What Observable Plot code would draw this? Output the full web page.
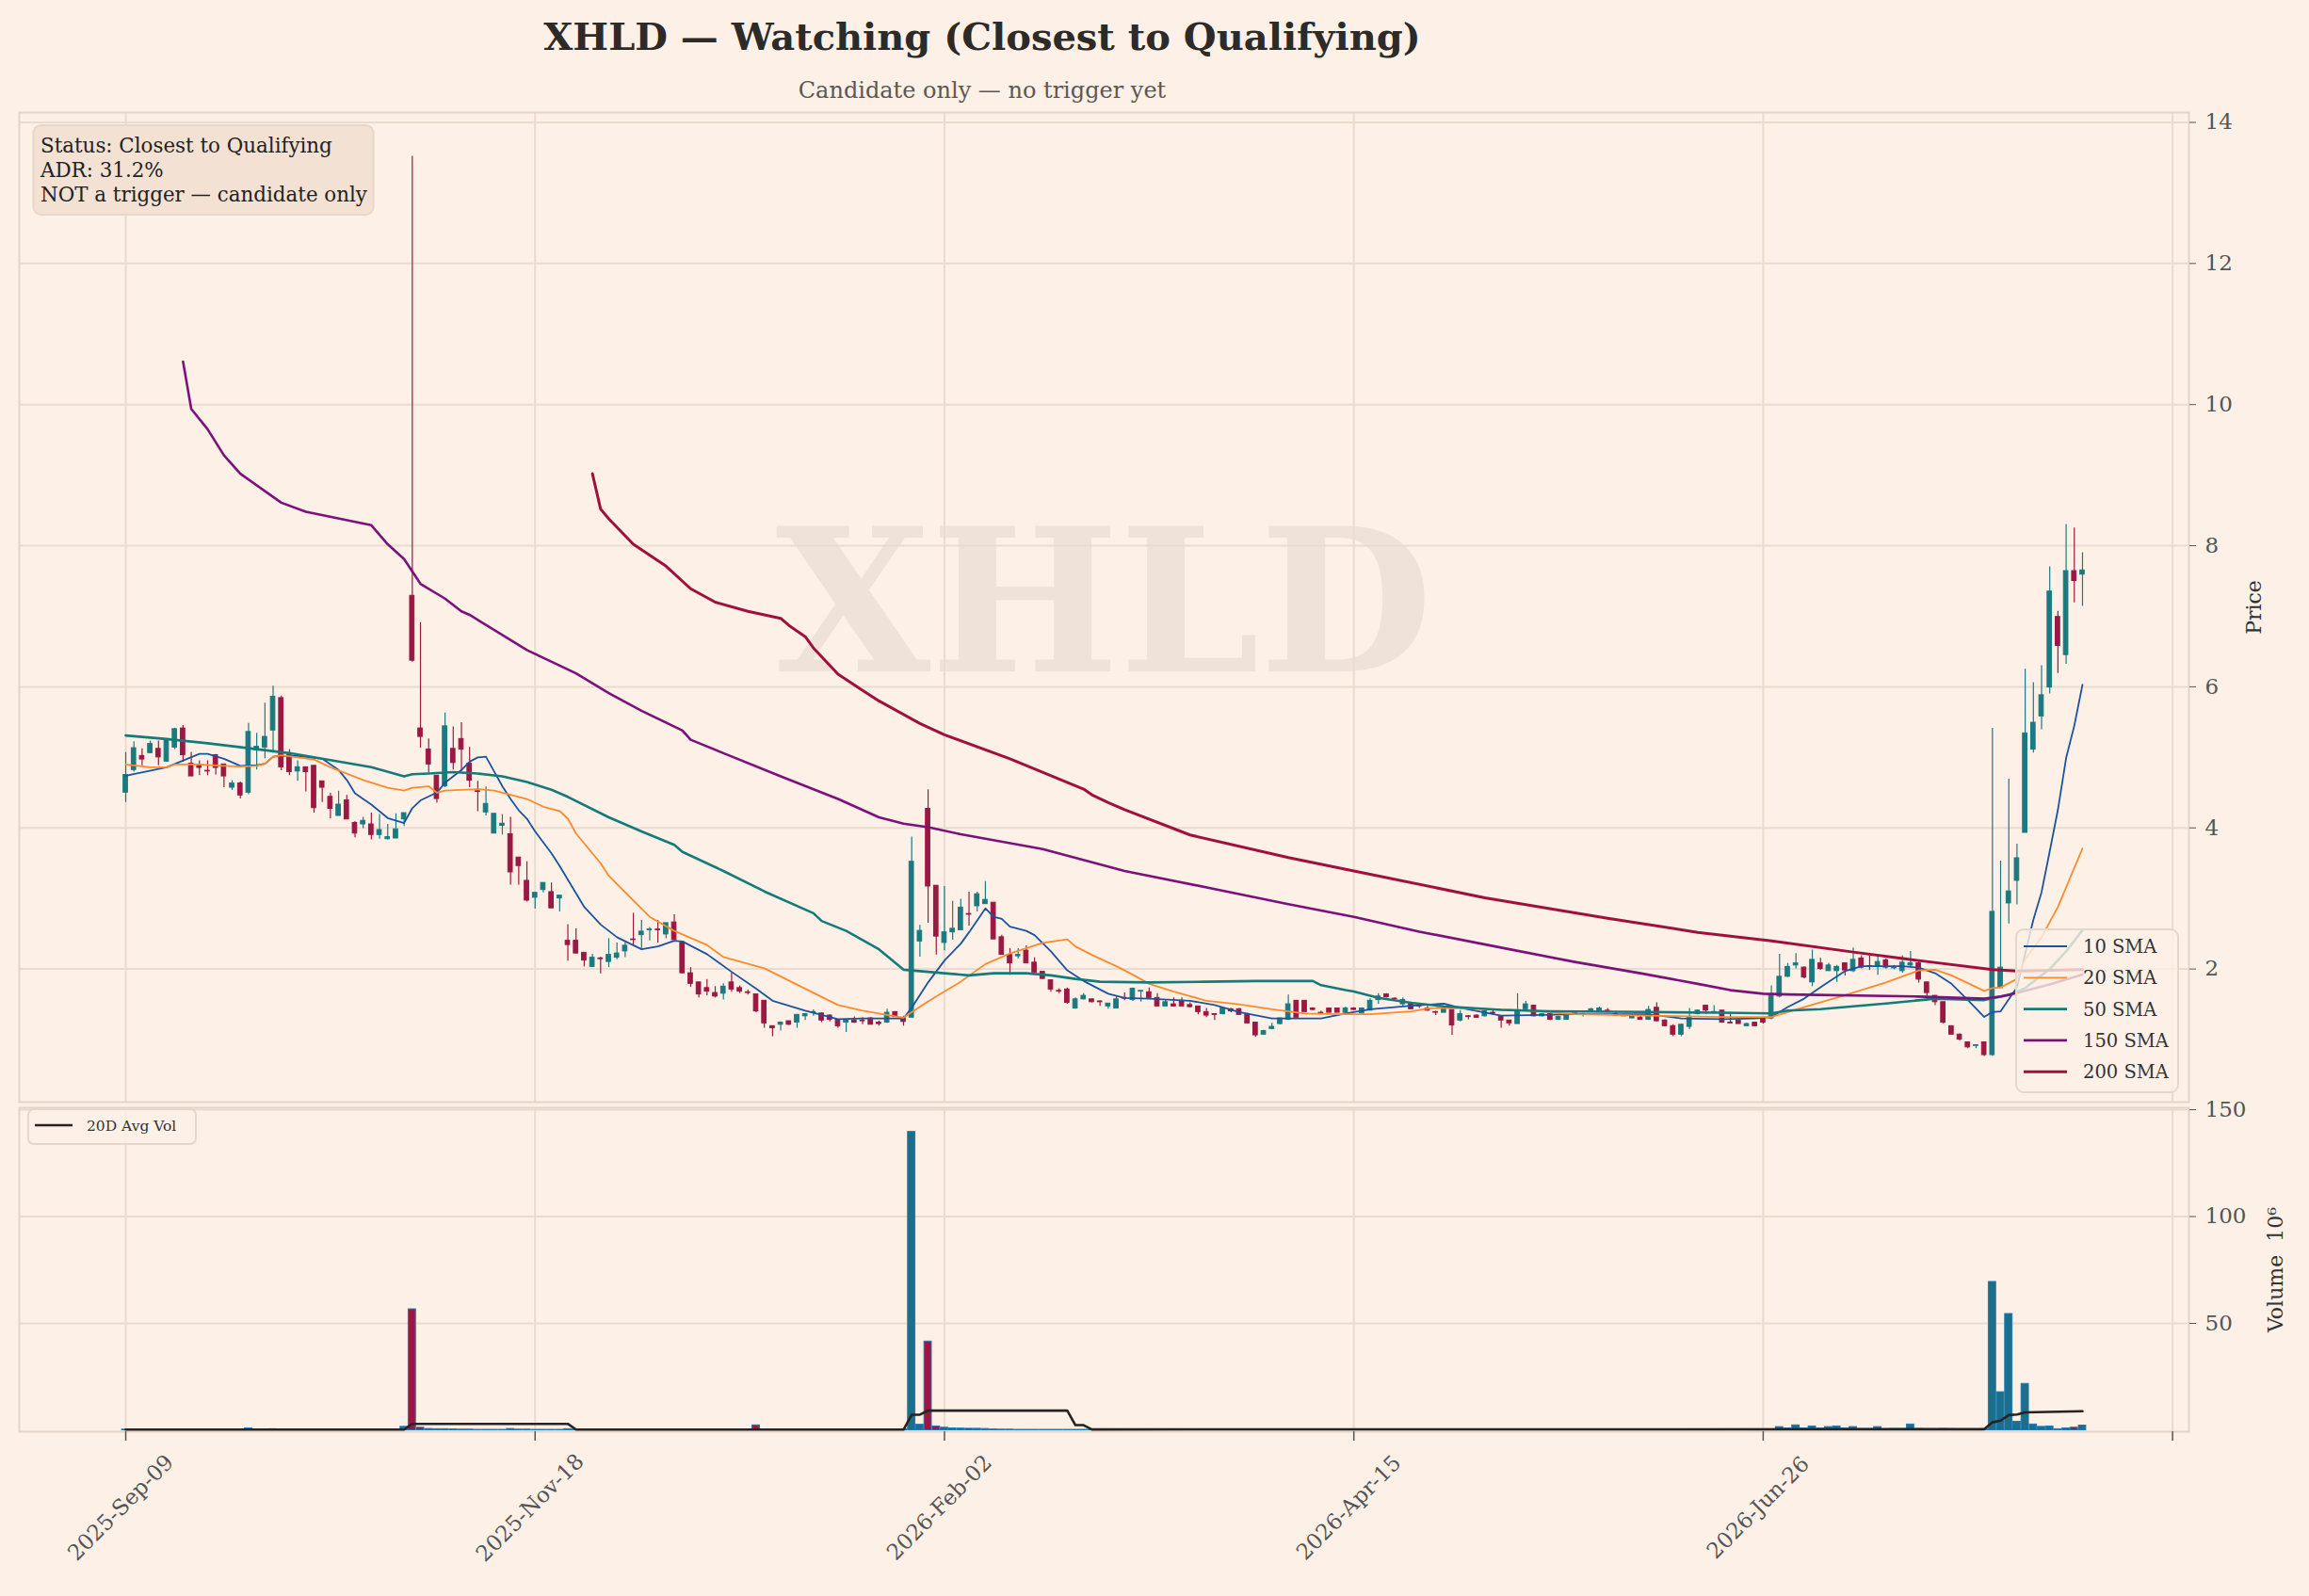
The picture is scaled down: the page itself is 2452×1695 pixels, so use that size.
<!DOCTYPE html>
<html><head><meta charset="utf-8">
<script src="https://cdn.jsdelivr.net/npm/d3@7"></script>
<script src="https://cdn.jsdelivr.net/npm/@observablehq/plot@0.6"></script>
<style>
html,body{margin:0;padding:0;background:#fdf1e7;}
#wrap{position:relative;width:2452px;height:1695px;overflow:hidden;background:#fdf1e7;font-family:"DejaVu Serif",serif;}
.abs{position:absolute;left:0;}
#price{top:0;}
#vol{top:1150px;}
#overlay{top:0;left:0;pointer-events:none;}
svg{overflow:visible;}
</style>
</head><body>
<div id="wrap">
  <div id="price" class="abs"></div>
  <div id="vol" class="abs"></div>
  <svg id="overlay" class="abs" width="2452" height="1695" xmlns="http://www.w3.org/2000/svg" font-family="DejaVu Serif">
    <text x="1043" y="53" text-anchor="middle" font-size="40" font-weight="bold" fill="#2e2a28">XHLD — Watching (Closest to Qualifying)</text>
    <text x="1043" y="104" text-anchor="middle" font-size="24" fill="#5c5753">Candidate only — no trigger yet</text>
    <rect x="35.5" y="133" width="361" height="95" rx="8" fill="#f3e1d3" stroke="#e8d6c8" stroke-width="2"/>
    <text x="43" font-size="21.4" fill="#222">
      <tspan x="43" y="162">Status: Closest to Qualifying</tspan>
      <tspan x="43" y="188">ADR: 31.2%</tspan>
      <tspan x="43" y="214">NOT a trigger — candidate only</tspan>
    </text>
    <g id="smaLegend"></g>
    <g id="volLegend"></g>
  </svg>
</div>
<script>
// ---------------- data ----------------
const opens = [4.50,4.82,5.02,5.06,5.12,4.94,5.14,5.41,4.91,4.88,4.81,5.03,4.90,4.57,4.63,4.50,5.10,5.14,5.38,5.84,
5.03,4.80,4.86,4.88,4.66,4.44,4.17,4.39,4.07,4.05,4.05,3.90,3.84,3.85,4.12,7.29,5.41,5.11,4.74,4.59,
5.12,5.26,4.91,4.52,4.22,3.92,4.03,3.91,3.58,3.25,3.01,3.12,3.09,3.00,2.40,2.40,2.23,2.03,2.15,2.10,
2.16,2.25,2.42,2.48,2.55,2.56,2.49,2.66,2.38,1.94,1.81,1.73,1.66,1.65,1.81,1.73,1.67,1.64,1.55,1.19,
1.21,1.26,1.24,1.33,1.38,1.37,1.34,1.28,1.24,1.27,1.27,1.30,1.24,1.24,1.39,1.30,1.31,2.39,4.27,3.18,
2.37,2.52,2.55,2.78,2.89,2.92,2.94,2.45,2.20,2.18,2.26,2.09,1.96,1.84,1.69,1.71,1.44,1.57,1.57,1.54,
1.47,1.44,1.59,1.56,1.68,1.67,1.59,1.47,1.50,1.55,1.49,1.47,1.39,1.36,1.36,1.43,1.43,1.35,1.24,1.07,
1.15,1.22,1.28,1.55,1.55,1.44,1.38,1.44,1.44,1.38,1.44,1.37,1.41,1.56,1.64,1.58,1.50,1.52,1.48,1.44,
1.39,1.38,1.42,1.27,1.33,1.34,1.33,1.38,1.32,1.27,1.22,1.43,1.48,1.33,1.36,1.28,1.28,1.36,1.35,1.39,
1.39,1.41,1.36,1.34,1.30,1.31,1.28,1.45,1.27,1.19,1.07,1.18,1.36,1.48,1.38,1.41,1.24,1.27,1.19,1.24,
1.30,1.30,1.61,1.89,2.05,2.02,1.81,2.08,1.97,1.97,2.08,1.97,2.15,2.04,2.03,2.12,2.01,1.97,2.05,2.08,
1.81,1.62,1.53,1.19,1.07,0.96,0.91,0.96,0.78,1.73,2.93,3.25,3.93,5.11,5.58,5.99,6.99,6.45,7.64,7.59];
const highs = [5.07,5.22,5.12,5.23,5.23,5.26,5.41,5.45,5.07,4.95,4.95,5.04,4.90,4.67,4.65,5.48,5.34,5.77,6.01,5.87,
5.11,4.95,4.86,4.88,4.66,4.49,4.52,4.46,4.09,4.15,4.21,4.19,4.05,4.20,4.21,13.52,6.91,5.26,4.74,5.63,
5.43,5.49,5.14,4.66,4.58,4.20,4.19,4.15,3.58,3.52,3.08,3.22,3.22,3.04,2.63,2.57,2.23,2.21,2.17,2.43,
2.37,2.38,2.79,2.69,2.59,2.69,2.65,2.77,2.38,2.02,1.81,1.85,1.75,1.79,1.94,1.76,1.70,1.64,1.55,1.19,
1.25,1.26,1.35,1.37,1.42,1.38,1.35,1.28,1.27,1.32,1.31,1.31,1.26,1.43,1.39,1.33,3.87,2.62,4.54,3.18,
3.17,2.96,2.99,3.09,3.09,3.24,2.94,2.48,2.29,2.29,2.33,2.16,1.96,1.84,1.72,1.73,1.59,1.65,1.57,1.55,
1.51,1.62,1.66,1.73,1.69,1.73,1.65,1.56,1.59,1.59,1.52,1.47,1.44,1.36,1.44,1.44,1.44,1.37,1.24,1.13,
1.23,1.30,1.63,1.55,1.55,1.45,1.40,1.44,1.44,1.46,1.45,1.45,1.58,1.65,1.65,1.59,1.59,1.53,1.51,1.47,
1.40,1.43,1.42,1.41,1.34,1.35,1.41,1.41,1.33,1.27,1.65,1.54,1.48,1.37,1.37,1.33,1.36,1.37,1.37,1.44,
1.46,1.44,1.40,1.36,1.35,1.34,1.47,1.52,1.28,1.21,1.22,1.44,1.42,1.48,1.48,1.41,1.36,1.27,1.23,1.24,
1.30,1.76,2.21,2.08,2.22,2.03,2.27,2.15,2.08,2.05,2.08,2.30,2.19,2.19,2.17,2.14,2.05,2.19,2.25,2.12,
1.81,1.62,1.53,1.19,1.08,0.96,0.92,0.96,5.41,3.53,4.69,3.77,6.25,6.06,6.30,7.70,7.07,8.30,8.25,7.90];
const lows = [4.36,4.79,4.88,5.05,4.88,4.93,5.11,4.93,4.73,4.74,4.74,4.75,4.57,4.53,4.41,4.47,4.82,4.98,5.06,4.81,
4.74,4.66,4.51,4.21,4.36,4.13,4.17,4.12,3.86,3.99,3.83,3.84,3.83,3.85,4.02,6.35,5.13,4.78,4.35,4.57,
4.82,4.80,4.57,4.23,4.17,3.92,3.90,3.19,3.19,2.95,2.85,3.08,2.86,2.81,2.11,2.22,2.03,2.03,1.93,2.02,
2.13,2.16,2.34,2.28,2.40,2.37,2.43,2.41,1.93,1.74,1.59,1.62,1.59,1.56,1.67,1.65,1.63,1.38,1.16,1.04,
1.12,1.20,1.16,1.27,1.33,1.24,1.25,1.16,1.10,1.23,1.21,1.21,1.19,1.23,1.32,1.19,1.31,2.17,2.65,2.20,
2.26,2.41,2.55,2.61,2.81,2.92,2.42,2.20,1.91,2.14,2.08,1.95,1.85,1.67,1.65,1.50,1.43,1.56,1.52,1.47,
1.43,1.44,1.55,1.54,1.53,1.59,1.47,1.47,1.46,1.47,1.45,1.35,1.31,1.27,1.35,1.38,1.34,1.22,1.03,1.07,
1.14,1.21,1.28,1.31,1.39,1.41,1.37,1.38,1.38,1.37,1.41,1.36,1.41,1.50,1.59,1.56,1.47,1.43,1.44,1.40,
1.34,1.38,1.06,1.25,1.28,1.30,1.32,1.34,1.16,1.19,1.22,1.41,1.32,1.32,1.27,1.27,1.28,1.35,1.32,1.38,
1.38,1.39,1.33,1.33,1.30,1.28,1.27,1.25,1.19,1.04,1.04,1.14,1.35,1.36,1.37,1.23,1.23,1.22,1.19,1.18,
1.22,1.28,1.59,1.88,2.00,1.86,1.75,1.98,1.97,1.81,1.90,1.95,2.00,1.98,1.91,2.00,1.99,1.94,2.02,1.80,
1.61,1.48,1.22,1.07,0.98,0.87,0.87,0.76,0.76,1.73,2.64,2.91,3.93,5.06,5.39,5.90,6.19,6.32,7.19,7.14];
const closes = [4.75,5.13,4.97,5.19,5.00,5.25,5.40,5.03,4.73,4.85,4.80,4.85,4.73,4.63,4.46,5.36,5.15,5.29,5.86,4.86,
4.79,4.86,4.79,4.28,4.57,4.27,4.33,4.12,3.92,4.10,3.90,3.97,3.87,3.98,4.21,6.37,5.29,4.90,4.41,5.44,
4.92,5.11,4.67,4.51,4.34,4.20,4.06,3.37,3.46,2.97,3.08,3.22,2.86,3.04,2.34,2.22,2.12,2.16,2.14,2.20,
2.22,2.33,2.41,2.53,2.56,2.55,2.65,2.41,1.94,1.79,1.64,1.68,1.61,1.75,1.71,1.68,1.66,1.40,1.23,1.16,
1.24,1.21,1.35,1.36,1.39,1.27,1.28,1.19,1.27,1.24,1.26,1.21,1.22,1.38,1.32,1.25,3.52,2.54,3.17,2.46,
2.52,2.57,2.87,2.77,3.06,2.98,2.42,2.20,2.08,2.20,2.08,1.95,1.86,1.71,1.68,1.52,1.57,1.62,1.53,1.53,
1.51,1.57,1.58,1.72,1.69,1.59,1.47,1.53,1.47,1.47,1.46,1.39,1.34,1.35,1.44,1.40,1.35,1.23,1.06,1.12,
1.18,1.30,1.50,1.31,1.39,1.42,1.37,1.38,1.38,1.44,1.42,1.44,1.55,1.61,1.60,1.57,1.56,1.43,1.47,1.41,
1.38,1.43,1.20,1.36,1.32,1.31,1.40,1.37,1.27,1.23,1.41,1.50,1.33,1.36,1.28,1.32,1.35,1.37,1.36,1.43,
1.44,1.40,1.34,1.33,1.34,1.28,1.42,1.26,1.19,1.07,1.21,1.32,1.41,1.41,1.39,1.24,1.23,1.22,1.22,1.19,
1.24,1.63,1.89,2.03,2.08,1.88,2.13,2.00,2.05,2.03,1.98,2.13,2.02,2.03,2.10,2.02,2.02,2.09,2.08,1.85,
1.66,1.53,1.24,1.07,1.00,0.89,0.92,0.78,2.81,2.02,3.10,3.57,5.34,5.49,5.88,7.35,6.58,7.64,7.50,7.65];
const volumes = [0.3,0.3,0.2,0.2,0.3,0.2,0.3,0.3,0.2,0.2,0.2,0.2,0.2,0.2,0.2,0.9,0.3,0.4,0.5,0.4,
0.3,0.2,0.2,0.3,0.2,0.2,0.2,0.2,0.2,0.2,0.2,0.2,0.2,0.2,1.6,56.6,1.2,0.6,0.5,0.5,
0.4,0.3,0.3,0.2,0.2,0.2,0.2,0.6,0.3,0.3,0.2,0.2,0.2,0.2,0.5,0.3,0.2,0.2,0.2,0.2,
0.2,0.2,0.2,0.2,0.2,0.2,0.2,0.2,0.2,0.2,0.2,0.2,0.2,0.2,0.2,0.2,0.2,2.3,0.3,0.2,
0.2,0.2,0.2,0.2,0.2,0.2,0.2,0.2,0.2,0.2,0.2,0.2,0.2,0.2,0.2,0.5,139.6,2.6,41.5,1.8,
1.2,0.9,0.8,0.7,0.7,0.6,0.4,0.3,0.3,0.2,0.2,0.2,0.2,0.2,0.2,0.2,0.2,0.2,0.2,0.2,
0.2,0.2,0.2,0.2,0.2,0.2,0.2,0.2,0.2,0.2,0.2,0.2,0.2,0.2,0.2,0.2,0.2,0.2,0.3,0.2,
0.2,0.2,0.3,0.2,0.2,0.2,0.2,0.2,0.2,0.2,0.2,0.2,0.3,0.2,0.2,0.2,0.2,0.2,0.2,0.2,
0.2,0.2,0.3,0.2,0.2,0.2,0.2,0.2,0.2,0.2,0.3,0.2,0.2,0.2,0.2,0.2,0.2,0.2,0.2,0.2,
0.2,0.2,0.2,0.2,0.2,0.2,0.3,0.2,0.2,0.3,0.2,0.2,0.2,0.2,0.2,0.2,0.2,0.2,0.2,0.2,
0.3,0.4,1.5,0.8,2.3,0.8,1.8,0.8,1.5,1.8,0.8,1.5,0.6,0.6,1.5,0.5,0.6,0.6,2.7,0.6,
0.5,0.5,0.6,0.5,0.4,0.4,0.3,0.5,69.4,17.8,54.4,4.0,21.7,2.7,1.6,1.8,0.5,0.9,1.2,2.2];
// moving averages: [bar, value]
const sma10 = [[0,4.74],[5,4.86],[9,5.05],[10,5.05],[12,4.98],[14,4.88],[16,4.89],[17,4.91],[18,5.01],[19,5.02],[21,5.02],[24,4.98],[26,4.82],[27,4.68],[28,4.49],[30,4.33],[32,4.14],[34,4.07],[35,4.28],[36,4.39],[38,4.50],[39,4.64],[41,4.82],[42,4.94],[43,5.00],[44,5.01],[45,4.80],[46,4.59],[47,4.41],[48,4.25],[49,4.13],[50,3.95],[52,3.64],[53,3.46],[56,2.88],[58,2.63],[60,2.45],[63,2.28],[65,2.32],[67,2.40],[68,2.39],[71,2.21],[74,1.96],[77,1.72],[79,1.55],[83,1.41],[87,1.29],[90,1.30],[95,1.30],[96,1.45],[98,1.81],[100,2.12],[102,2.36],[103,2.52],[105,2.86],[106,2.74],[107,2.71],[108,2.60],[110,2.54],[111,2.48],[113,2.25],[115,1.98],[117,1.83],[120,1.65],[122,1.59],[125,1.58],[130,1.55],[133,1.49],[136,1.39],[140,1.30],[146,1.30],[149,1.37],[152,1.43],[157,1.48],[161,1.51],[163,1.45],[168,1.34],[173,1.35],[177,1.36],[186,1.36],[190,1.30],[195,1.29],[199,1.30],[201,1.32],[203,1.46],[205,1.58],[207,1.74],[210,1.97],[212,2.04],[217,2.04],[219,2.02],[221,1.94],[223,1.79],[225,1.56],[227,1.32],[228,1.39],[229,1.40],[231,1.74],[232,2.22],[233,2.70],[234,3.09],[235,3.67],[236,4.26],[237,4.99],[238,5.45],[239,6.03]];
const sma20 = [[0,4.90],[3,4.86],[5,4.86],[6,4.90],[9,4.90],[12,4.88],[14,4.87],[16,4.88],[17,4.91],[18,5.01],[19,5.03],[21,5.00],[23,4.97],[25,4.86],[27,4.77],[29,4.68],[32,4.57],[34,4.53],[35,4.57],[37,4.59],[38,4.50],[39,4.53],[43,4.55],[45,4.53],[47,4.47],[49,4.41],[51,4.30],[53,4.24],[54,4.13],[55,3.92],[57,3.64],[58,3.50],[59,3.32],[62,2.97],[64,2.74],[67,2.54],[71,2.34],[73,2.17],[78,2.01],[83,1.72],[87,1.49],[90,1.41],[95,1.31],[98,1.54],[100,1.68],[102,1.82],[105,2.07],[108,2.22],[112,2.37],[115,2.42],[116,2.32],[118,2.20],[121,2.04],[123,1.92],[125,1.79],[128,1.68],[132,1.55],[136,1.50],[140,1.43],[144,1.37],[148,1.36],[152,1.36],[157,1.40],[159,1.44],[161,1.45],[170,1.42],[177,1.36],[186,1.34],[191,1.33],[195,1.32],[201,1.32],[203,1.39],[205,1.46],[210,1.63],[215,1.81],[219,1.98],[221,1.99],[223,1.91],[225,1.80],[227,1.69],[228,1.73],[229,1.74],[231,1.86],[232,2.14],[234,2.45],[236,2.88],[239,3.71]];
const sma50 = [[0,5.31],[5,5.26],[10,5.20],[15,5.13],[20,5.06],[25,4.96],[30,4.86],[34,4.73],[35,4.76],[37,4.77],[40,4.79],[43,4.77],[46,4.73],[49,4.65],[52,4.54],[54,4.44],[59,4.15],[63,3.95],[67,3.76],[68,3.66],[73,3.39],[78,3.10],[84,2.79],[85,2.68],[88,2.54],[92,2.28],[95,1.99],[96,1.98],[100,1.94],[103,1.91],[106,1.94],[110,1.94],[113,1.91],[116,1.86],[119,1.82],[125,1.81],[132,1.82],[138,1.83],[145,1.83],[146,1.77],[149,1.70],[150,1.68],[153,1.59],[157,1.52],[161,1.47],[168,1.42],[174,1.40],[186,1.39],[195,1.38],[201,1.37],[203,1.41],[207,1.43],[215,1.51],[221,1.58],[227,1.56],[230,1.63],[232,1.73],[235,2.00],[237,2.25],[239,2.55]];
const sma150 = [[7,10.61],[8,9.94],[10,9.65],[12,9.28],[14,9.02],[19,8.61],[22,8.48],[30,8.29],[32,8.02],[34,7.81],[36,7.46],[39,7.25],[41,7.07],[42,7.02],[49,6.52],[55,6.19],[59,5.91],[63,5.66],[68,5.38],[69,5.25],[73,5.06],[80,4.73],[87,4.41],[92,4.15],[95,4.06],[98,4.01],[102,3.91],[112,3.70],[122,3.39],[134,3.11],[142,2.92],[150,2.74],[158,2.53],[169,2.28],[177,2.10],[185,1.94],[192,1.79],[196,1.70],[200,1.65],[203,1.64],[219,1.61],[227,1.58],[229,1.61],[231,1.66],[235,1.78],[239,1.92]];
const sma200 = [[57,9.02],[58,8.52],[59,8.38],[62,8.02],[66,7.71],[69,7.39],[72,7.20],[76,7.07],[80,6.97],[81,6.87],[83,6.71],[84,6.55],[87,6.18],[90,5.95],[92,5.80],[97,5.48],[100,5.32],[108,4.98],[117,4.55],[118,4.47],[120,4.36],[122,4.26],[130,3.90],[142,3.58],[150,3.39],[166,3.01],[181,2.72],[192,2.52],[201,2.40],[211,2.24],[219,2.12],[228,1.99],[231,1.97],[239,1.99]];
const avgVol20 = [[0,0.3],[34,0.35],[35,3.0],[54,3.0],[55,0.35],[95,0.3],[96,7.3],[97,7.3],[98,9.2],[115,9.2],[116,2.4],[117,2.4],[118,0.4],[227,0.5],[228,3.7],[229,4.5],[230,7.1],[231,7.4],[232,8.4],[239,8.9]];
const priceTicks = [2,4,6,8,10,12,14];
const volTicks = [50,100,150];
const xTickPos = [0,50,100,150,200,250];
const xTickLabels = ["2025-Sep-09","2025-Nov-18","2026-Feb-02","2026-Apr-15","2026-Jun-26",""];
const smaNames = ["10 SMA","20 SMA","50 SMA","150 SMA","200 SMA"];
const smaColors = ["#1a53a0","#ff8a2b","#167a7a","#7b117a","#a0103d"];
const smaWidths = [1.8,1.8,2.6,2.6,3.0];
const ticker = "XHLD";

// ---------------- build ----------------
const UP = "#1a7a80", DOWN = "#9b1843";
const GRID = "#eadbcf", SPINE = "#e4d4c7", TXT = "#555";
const candles = opens.map((o, i) => ({i, open: o, high: highs[i], low: lows[i], close: closes[i], vol: volumes[i], up: closes[i] >= o}));
const xTicks = xTickPos.map((p, k) => ({pos: p, label: xTickLabels[k]}));
const xDomain = [-13.0, 252.0];
const font = "DejaVu Serif";
const smaSeries = [sma10, sma20, sma50, sma150, sma200];

const pricePlot = Plot.plot({
  width: 2452, height: 1180,
  marginTop: 119, marginBottom: 10, marginLeft: 20, marginRight: 128,
  x: {domain: xDomain, axis: null},
  y: {domain: [0.113, 14.14], axis: null},
  style: {background: "transparent", fontFamily: font, overflow: "visible"},
  marks: [
    Plot.text([ticker], {frameAnchor: "middle", text: d => d, fontSize: 212, fontWeight: "bold", fill: "#efe2d8"}),
    Plot.gridX(xTickPos, {stroke: GRID, strokeOpacity: 1, strokeWidth: 2}),
    Plot.gridY(priceTicks, {stroke: GRID, strokeOpacity: 1, strokeWidth: 2}),
    Plot.frame({stroke: SPINE, strokeWidth: 2}),
    Plot.axisY(priceTicks, {anchor: "right", tickSize: 7, tickPadding: 10, fontSize: 23, color: TXT, label: null, tickFormat: d => String(d)}),
    Plot.text(["Price"], {frameAnchor: "right", text: d => d, dx: 69, rotate: -90, textAnchor: "middle", fontSize: 22, fill: "#333"}),
    Plot.ruleX(candles, {x: "i", y1: "low", y2: "high", stroke: d => d.up ? UP : DOWN, strokeWidth: 1.2}),
    Plot.rect(candles, {x1: d => d.i - 0.27, x2: d => d.i + 0.27, y1: "open", y2: "close", fill: d => d.up ? UP : DOWN, stroke: d => d.up ? UP : DOWN, strokeWidth: 1}),
    ...smaSeries.map((s, k) => Plot.line(s, {x: d => d[0], y: d => d[1], stroke: smaColors[k], strokeWidth: smaWidths[k]}))
  ]
});
document.getElementById("price").appendChild(pricePlot);

const volPlot = Plot.plot({
  width: 2452, height: 545,
  marginTop: 26, marginBottom: 175, marginLeft: 20, marginRight: 128,
  x: {domain: xDomain, axis: null},
  y: {domain: [-0.66, 150.9], axis: null},
  style: {background: "transparent", fontFamily: font, overflow: "visible"},
  marks: [
    Plot.gridX(xTickPos, {stroke: GRID, strokeOpacity: 1, strokeWidth: 2}),
    Plot.gridY(volTicks, {stroke: GRID, strokeOpacity: 1, strokeWidth: 2}),
    Plot.frame({stroke: SPINE, strokeWidth: 2}),
    Plot.axisY(volTicks, {anchor: "right", tickSize: 7, tickPadding: 10, fontSize: 23, color: TXT, label: null, tickFormat: d => String(d)}),
    Plot.axisX(xTickPos, {anchor: "bottom", tickSize: 10, tickFormat: () => "", color: "#555", label: null, strokeWidth: 1.5}),
    Plot.text(xTicks, {x: "pos", text: "label", frameAnchor: "bottom", dy: 86, rotate: -45, textAnchor: "middle", fontSize: 23, fill: TXT}),
    Plot.text(["Volume  10⁶"], {frameAnchor: "right", text: d => d, dx: 92, rotate: -90, textAnchor: "middle", fontSize: 22, fill: "#333"}),
    Plot.rect(candles, {x1: d => d.i - 0.45, x2: d => d.i + 0.45, y1: 0, y2: "vol", fill: d => d.up ? "#1b6f8a" : DOWN, stroke: "#1f77b4", strokeWidth: 1}),
    Plot.line(avgVol20, {x: d => d[0], y: d => d[1], stroke: "#262322", strokeWidth: 2.6})
  ]
});
document.getElementById("vol").appendChild(volPlot);

// ---------------- legends ----------------
const lg = d3.select("#smaLegend");
lg.append("rect").attr("x", 2141).attr("y", 987).attr("width", 172).attr("height", 173).attr("rx", 8)
  .attr("fill", "#fdf1e7").attr("fill-opacity", 0.8).attr("stroke", "#e6d7cb").attr("stroke-width", 2);
smaNames.forEach((n, k) => {
  const y = 1005 + k * 33.3;
  lg.append("line").attr("x1", 2149).attr("x2", 2195).attr("y1", y).attr("y2", y)
    .attr("stroke", smaColors[k]).attr("stroke-width", smaWidths[k]);
  lg.append("text").attr("x", 2212).attr("y", y + 7).attr("font-size", 19.5).attr("fill", "#333").text(n);
});
const vg = d3.select("#volLegend");
vg.append("rect").attr("x", 30).attr("y", 1178).attr("width", 178).attr("height", 37).attr("rx", 6)
  .attr("fill", "#fdf1e7").attr("fill-opacity", 0.8).attr("stroke", "#e6d7cb").attr("stroke-width", 2);
vg.append("line").attr("x1", 37).attr("x2", 77).attr("y1", 1195).attr("y2", 1195).attr("stroke", "#262322").attr("stroke-width", 2.6);
vg.append("text").attr("x", 92).attr("y", 1201).attr("font-size", 15.5).attr("fill", "#333").text("20D Avg Vol");
</script>
</body></html>
